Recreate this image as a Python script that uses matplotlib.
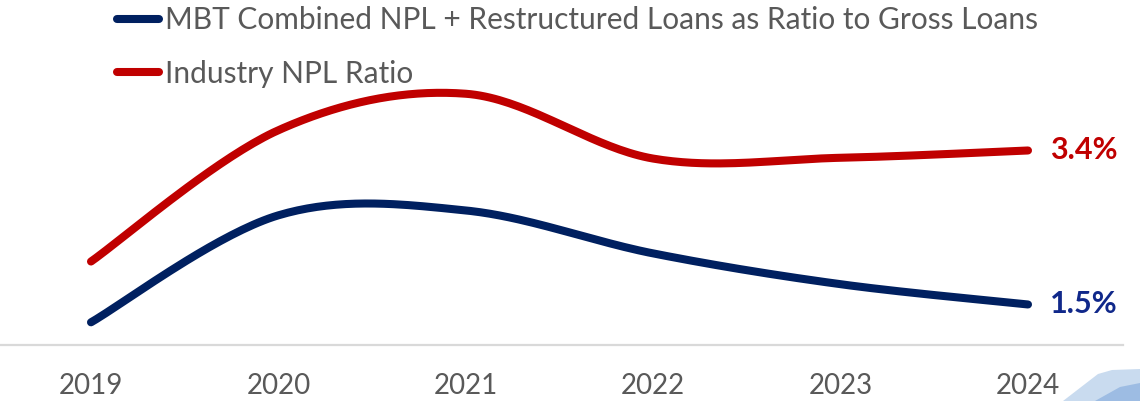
import numpy as np
import matplotlib
matplotlib.use("Agg")
from matplotlib import pyplot as plt
from matplotlib.patches import Polygon

years = ["2019", "2020", "2021", "2022", "2023", "2024"]
mbt_ratio = [1.28, 2.60, 2.66, 2.13, 1.75, 1.5]
industry_npl = [2.03, 3.65, 4.10, 3.30, 3.31, 3.4]

mbt_label = "MBT Combined NPL + Restructured Loans as Ratio to Gross Loans"
industry_label = "Industry NPL Ratio"

NAVY = "#002060"
RED = "#C00000"
GREY = "#595959"

plt.rcParams['font.family'] = ['Lato', 'DejaVu Sans']


def smooth(y, steps=40):
    # excel-style smoothed line: bezier through each point, tangent = (next - prev) / 6
    y = np.asarray(y, dtype=float)
    x = np.arange(len(y), dtype=float)
    pts = np.column_stack([x, y])
    out = []
    for i in range(len(pts) - 1):
        p0 = pts[i]
        p3 = pts[i + 1]
        prev = pts[i - 1] if i > 0 else pts[i]
        nxt = pts[i + 2] if i + 2 < len(pts) else pts[i + 1]
        p1 = p0 + (p3 - prev) / 6.0
        p2 = p3 - (nxt - p0) / 6.0
        t = np.linspace(0, 1, steps)[:, None]
        seg = ((1 - t) ** 3) * p0 + 3 * ((1 - t) ** 2) * t * p1 + 3 * (1 - t) * t ** 2 * p2 + t ** 3 * p3
        out.append(seg if i == 0 else seg[1:])
    seg = np.vstack(out)
    return seg[:, 0], seg[:, 1]


fig = plt.figure(figsize=(11.4, 4.01), dpi=100)
ax = fig.add_axes([0, 56 / 401, 1123 / 1140, 345 / 401])

px = 187.4
ax.set_xlim(-91 / px, 5 + 95 / px)
ax.set_ylim(1.0, 1.0 + 345 / 81.05)

xs, ys = smooth(mbt_ratio)
ax.plot(xs, ys, color=NAVY, lw=5.8, solid_capstyle="round", label=mbt_label)
xs, ys = smooth(industry_npl)
ax.plot(xs, ys, color=RED, lw=5.8, solid_capstyle="round", label=industry_label)

# end-point value labels
ax.text(5 + 22 / px, industry_npl[-1], f"{industry_npl[-1]:.1f}%", color=RED,
        fontsize=22, fontweight="bold", va="center", ha="left", clip_on=False)
ax.text(5 + 22 / px, mbt_ratio[-1], f"{mbt_ratio[-1]:.1f}%", color="#10288A",
        fontsize=22, fontweight="bold", va="center", ha="left", clip_on=False)

for s in ["top", "right", "left"]:
    ax.spines[s].set_visible(False)
ax.spines["bottom"].set_color("#D9D9D9")
ax.spines["bottom"].set_linewidth(1.6)
ax.set_yticks([])
ax.set_xticks(range(len(years)))
ax.set_xticklabels(years, fontsize=20, color=GREY)
ax.tick_params(axis="x", length=0, pad=20)

leg = ax.legend(loc="upper left", bbox_to_anchor=(117 / 1123, 1 - 6 / 345), frameon=False,
                fontsize=21.5, handlelength=1.4, handletextpad=0.2, labelspacing=0.86,
                borderaxespad=0, borderpad=0)
for t in leg.get_texts():
    t.set_color(GREY)

# corner decoration
fig.patches.append(Polygon([[1063 / 1140, 0], [1098 / 1140, 27 / 401], [1112 / 1140, 31 / 401],
                            [1 , 32 / 401], [1, 0]], closed=True, transform=fig.transFigure,
                           facecolor="#C9DBEF", edgecolor="none"))
fig.patches.append(Polygon([[1095 / 1140, 0], [1120 / 1140, 14 / 401], [1, 18 / 401], [1, 0]],
                           closed=True, transform=fig.transFigure, facecolor="#9DBCE3", edgecolor="none"))

fig.savefig("out.png", dpi=100)
